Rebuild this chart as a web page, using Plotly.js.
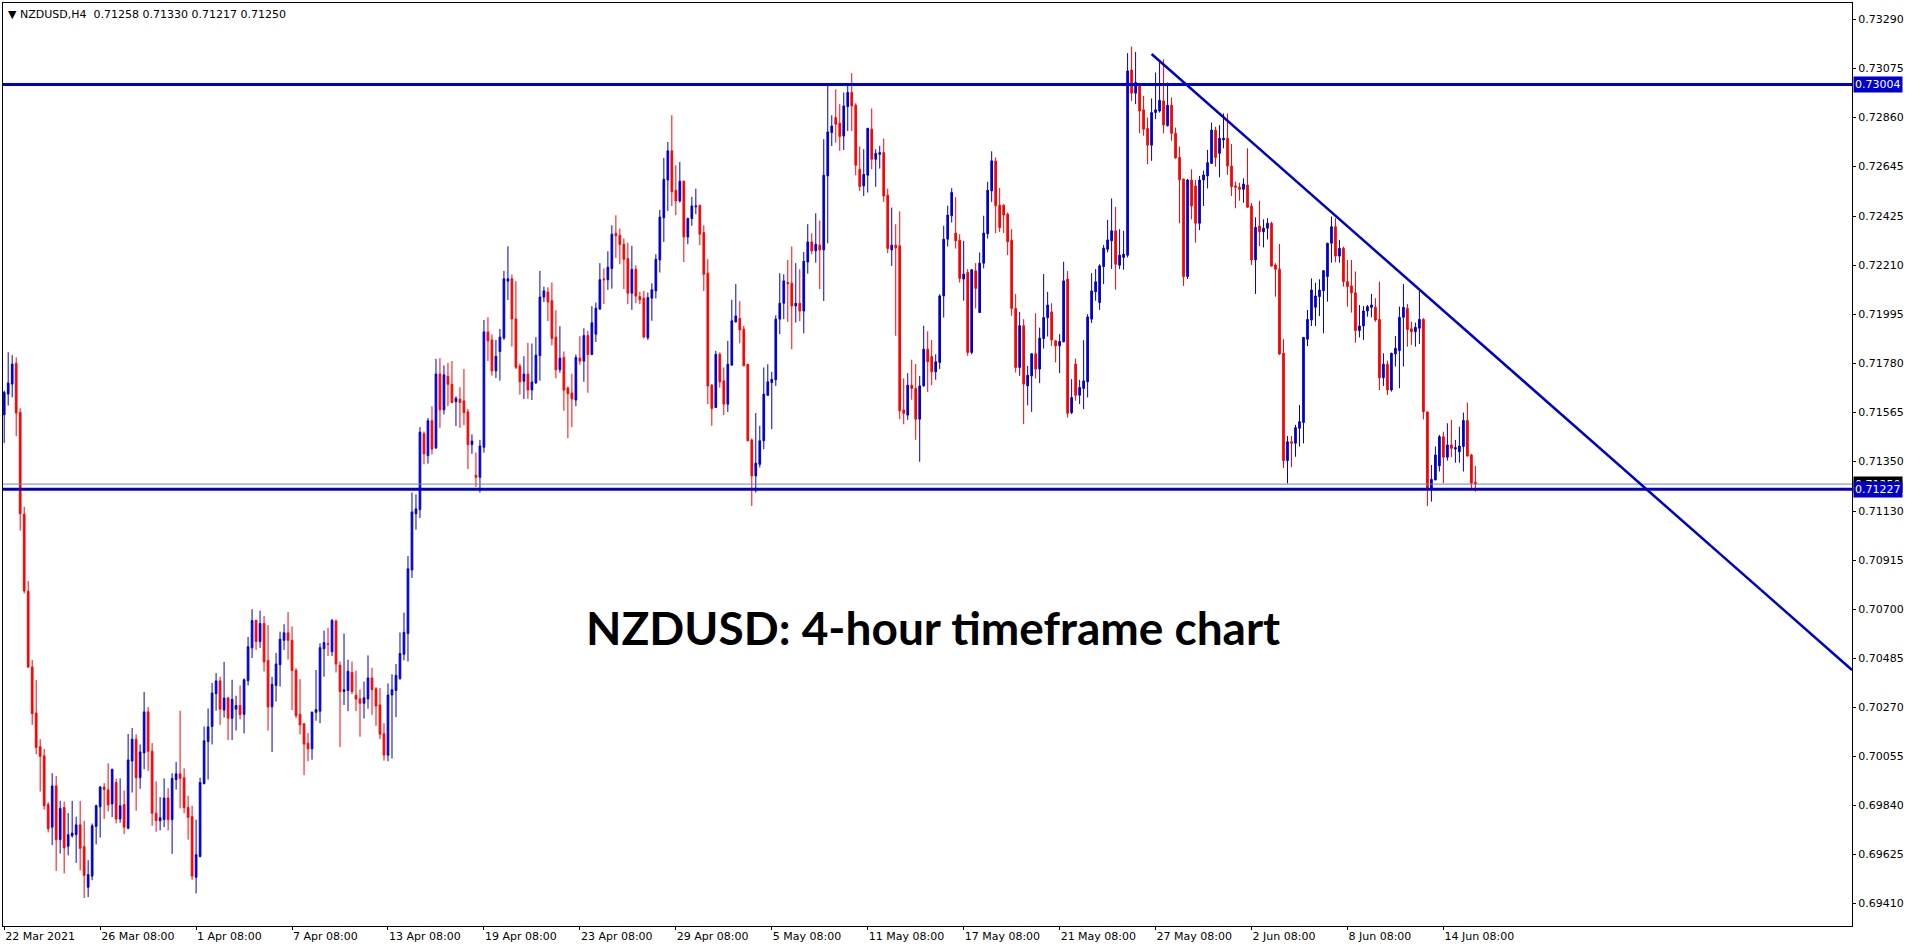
<!DOCTYPE html>
<html>
<head>
<meta charset="utf-8">
<script src="https://cdn.plot.ly/plotly-3.0.1.min.js"></script>
<style>
html,body{margin:0;padding:0;background:#fff;}
#chart{width:1916px;height:946px;}
</style>
</head>
<body>
<div id="chart"></div>
<script>
// ---- NZDUSD H4 OHLC values ----
const openP = [
.71554,.71645,.71689,.71780,.71565,.71118,.70780,.70447,.70245,.70097,
.70057,.69843,.69744,.69925,.69689,.69830,.69660,.69706,.69711,.69754,
.69658,.69480,.69529,.69747,.69833,.69920,.69908,.69846,.69940,.69780,
.69843,.69739,.70034,.70130,.69961,.70070,.70250,.70077,.69805,.69772,
.69777,.69872,.69777,.69953,.69978,.69961,.69830,.69790,.69524,.69615,
.69935,.70120,.70186,.70330,.70386,.70258,.70311,.70222,.70262,.70278,
.70239,.70387,.70531,.70651,.70559,.70638,.70476,.70272,.70366,.70457,
.70564,.70597,.70564,.70432,.70239,.70198,.70112,.70088,.70248,.70253,
.70527,.70549,.70514,.70649,.70455,.70340,.70344,.70423,.70323,.70307,
.70288,.70307,.70399,.70351,.70280,.70154,.70060,.70324,.70344,.70396,
.70503,.70594,.70873,.71120,.71138,.71471,.71375,.71528,.71409,.71733,
.71576,.71723,.71688,.71612,.71623,.71615,.71567,.71423,.71289,.71280,
.71412,.71918,.71883,.71747,.71832,.71891,.72141,.72151,.71975,.71768,
.71702,.71733,.71663,.71694,.71814,.72071,.72093,.72055,.71895,.71752,
.71806,.71672,.71650,.71619,.71803,.71790,.71902,.71819,.71908,.72018,
.72150,.72147,.72196,.72351,.72342,.72303,.72240,.72088,.72193,.72073,
.72066,.71892,.72066,.72098,.72234,.72419,.72585,.72713,.72540,.72493,
.72580,.72335,.72416,.72467,.72474,.72354,.72176,.71684,.71586,.71820,
.71703,.71601,.71772,.71962,.71977,.71930,.71776,.71444,.71286,.71337,
.71440,.71640,.71696,.71708,.71974,.72044,.72135,.72132,.72032,.72044,
.72010,.72225,.72313,.72274,.72299,.72278,.72603,.72793,.72859,.72834,
.72778,.72907,.72969,.72913,.72632,.72559,.72606,.72808,.72676,.72698,
.72705,.72518,.72278,.72299,.72296,.71575,.71553,.71684,.71670,.71535,
.71681,.71842,.71810,.71743,.71784,.72076,.72325,.72428,.72352,.72321,
.72150,.72179,.71828,.72186,.72003,.72220,.72349,.72537,.72668,.72474,
.72474,.72435,.72321,.72021,.71762,.71945,.71681,.71725,.71822,.71755,
.71889,.71981,.72006,.71879,.71857,.71875,.72150,.71564,.71777,.71640,
.71670,.71699,.71974,.72094,.72047,.72205,.72281,.72318,.72362,.72211,
.72245,.72255,.73068,.72966,.73008,.72893,.72811,.72738,.72881,.72888,
.72932,.72823,.72913,.72790,.72684,.72589,.72161,.72585,.72559,.72395,
.72585,.72603,.72658,.72804,.72702,.72761,.72768,.72646,.72559,.72553,
.72544,.72563,.72471,.72234,.72383,.72358,.72373,.72395,.72212,.72193,
.71824,.71353,.71436,.71429,.71495,.71520,.71886,.71970,.72026,.72073,
.72099,.72161,.72307,.72380,.72251,.72285,.72139,.72120,.72090,.71924,
.71944,.72010,.72026,.72026,.71973,.71717,.71776,.71663,.71821,.71836,
.71982,.72022,.71932,.71919,.71934,.71973,.71567,.71232,.71268,.71330,
.71458,.71368,.71422,.71404,.71392,.71415,.71529,.71378,.71258];

const highP = [
.71660,.71829,.71816,.71806,.71583,.71150,.70824,.70478,.70390,.70130,
.70087,.69854,.69981,.69968,.69859,.69856,.69806,.69859,.69790,.69859,
.69772,.69599,.69760,.69843,.69925,.69937,.70024,.70000,.69957,.69958,
.69905,.70153,.70179,.70151,.70107,.70338,.70272,.70113,.69945,.69876,
.69958,.69915,.69981,.70031,.70255,.70002,.69882,.69838,.69777,.69961,
.70186,.70265,.70377,.70420,.70404,.70470,.70316,.70391,.70321,.70366,
.70397,.70579,.70701,.70655,.70694,.70671,.70631,.70404,.70509,.70602,
.70635,.70688,.70625,.70443,.70394,.70200,.70157,.70252,.70434,.70551,
.70607,.70619,.70658,.70655,.70471,.70594,.70479,.70471,.70431,.70348,
.70383,.70498,.70444,.70359,.70355,.70200,.70375,.70415,.70460,.70599,
.70686,.70934,.71213,.71205,.71500,.71481,.71540,.71592,.71800,.71803,
.71771,.71782,.71790,.71635,.71675,.71755,.71580,.71468,.71388,.71444,
.71970,.71982,.71907,.71883,.71931,.72186,.72294,.72170,.72141,.71779,
.71811,.71870,.71867,.71895,.72186,.72117,.72114,.72135,.72013,.71943,
.71832,.71678,.71734,.71819,.71899,.71934,.71923,.72031,.72047,.72220,
.72197,.72272,.72386,.72430,.72372,.72328,.72310,.72296,.72211,.72094,
.72098,.72091,.72132,.72259,.72454,.72682,.72752,.72869,.72650,.72664,
.72581,.72420,.72511,.72547,.72474,.72386,.72237,.71689,.71835,.71828,
.71762,.71879,.72059,.72128,.72053,.71945,.71776,.71450,.71562,.71506,
.71762,.71776,.71743,.71991,.72176,.72171,.72234,.72293,.72220,.72193,
.72269,.72391,.72351,.72439,.72407,.72764,.73001,.72869,.72983,.72918,
.72969,.73001,.73054,.72922,.72732,.72720,.72812,.72899,.72720,.72735,
.72767,.72547,.72464,.72391,.72447,.71714,.71737,.71796,.71777,.71725,
.71945,.71921,.71883,.71820,.72084,.72384,.72472,.72549,.72510,.72347,
.72318,.72194,.72194,.72220,.72267,.72428,.72577,.72711,.72684,.72550,
.72479,.72442,.72369,.72084,.72006,.71974,.71769,.71825,.72000,.71937,
.72172,.72094,.72044,.71883,.71908,.72226,.72186,.71711,.71801,.71708,
.71882,.71996,.72176,.72194,.72215,.72300,.72410,.72504,.72467,.72369,
.72362,.73142,.73171,.73147,.73008,.72954,.72859,.72943,.73057,.73108,
.73115,.73013,.72947,.72815,.72732,.72591,.72590,.72632,.72585,.72603,
.72626,.72717,.72837,.72819,.72826,.72877,.72877,.72743,.72578,.72573,
.72592,.72724,.72483,.72421,.72494,.72412,.72417,.72402,.72219,.72304,
.71886,.71461,.71461,.71510,.71597,.71894,.72014,.72153,.72134,.72149,
.72187,.72310,.72424,.72417,.72322,.72292,.72234,.72234,.72183,.72036,
.72032,.72036,.72085,.72066,.72139,.71824,.71792,.71827,.71900,.72029,
.72128,.72041,.71963,.71959,.72102,.71978,.71567,.71334,.71415,.71466,
.71480,.71517,.71532,.71444,.71502,.71564,.71608,.71383,.71330];

const lowP = [
.71430,.71595,.71631,.71460,.71046,.70770,.70443,.70193,.70064,.69900,
.69821,.69721,.69665,.69552,.69628,.69541,.69620,.69698,.69587,.69554,
.69433,.69437,.69511,.69668,.69698,.69780,.69813,.69788,.69760,.69763,
.69714,.69735,.69896,.69816,.69912,.69998,.69991,.69750,.69724,.69730,
.69744,.69730,.69627,.69909,.69826,.69805,.69689,.69513,.69453,.69612,
.69932,.69953,.70107,.70255,.70193,.70225,.70126,.70126,.70168,.70217,
.70156,.70366,.70486,.70522,.70531,.70427,.70168,.70074,.70295,.70361,
.70522,.70480,.70258,.70222,.70151,.69972,.70033,.70040,.70211,.70200,
.70404,.70495,.70495,.70423,.70096,.70280,.70253,.70328,.70253,.70141,
.70221,.70264,.70237,.70189,.70131,.70036,.70033,.70045,.70227,.70391,
.70476,.70471,.70838,.71050,.71101,.71337,.71340,.71380,.71404,.71497,
.71556,.71592,.71605,.71505,.71497,.71508,.71316,.71383,.71237,.71213,
.71388,.71790,.71726,.71715,.71704,.71883,.72058,.71854,.71755,.71643,
.71624,.71624,.71619,.71691,.71704,.72049,.71966,.71859,.71715,.71739,
.71572,.71452,.71500,.71592,.71774,.71699,.71651,.71816,.71874,.72018,
.72040,.72103,.72108,.72243,.72215,.72106,.72040,.72015,.72044,.72040,
.71889,.71883,.71967,.72065,.72179,.72313,.72449,.72471,.72430,.72486,
.72225,.72303,.72384,.72435,.72299,.72098,.71601,.71506,.71586,.71674,
.71553,.71567,.71772,.71959,.71868,.71769,.71440,.71154,.71213,.71323,
.71403,.71637,.71491,.71681,.71908,.71974,.71962,.71842,.71959,.71965,
.71912,.72174,.72259,.72222,.72106,.72054,.72307,.72734,.72749,.72713,
.72717,.72800,.72800,.72606,.72537,.72515,.72530,.72632,.72555,.72635,
.72489,.72264,.72208,.71901,.71535,.71513,.71532,.71620,.71444,.71348,
.71678,.71655,.71684,.71708,.71755,.71981,.72293,.72398,.72284,.72135,
.72055,.71813,.71820,.72021,.72003,.72197,.72328,.72489,.72352,.72357,
.72352,.72255,.71989,.71740,.71725,.71513,.71596,.71567,.71714,.71693,
.71845,.71898,.71857,.71784,.71737,.71872,.71542,.71557,.71616,.71601,
.71579,.71630,.71957,.72055,.72015,.72128,.72267,.72194,.72103,.72194,
.72191,.72245,.72932,.72918,.72790,.72779,.72654,.72669,.72852,.72881,
.72790,.72820,.72757,.72679,.72395,.72120,.72150,.72412,.72310,.72365,
.72471,.72548,.72655,.72643,.72597,.72724,.72607,.72515,.72461,.72494,
.72485,.72465,.72212,.72085,.72295,.72289,.72324,.72205,.72073,.71817,
.71320,.71253,.71324,.71370,.71415,.71429,.71856,.71944,.71944,.71988,
.71912,.72051,.72222,.72224,.72222,.72117,.72029,.72003,.71871,.71894,
.71883,.71985,.71982,.71963,.71663,.71681,.71641,.71656,.71766,.71671,
.71766,.71853,.71861,.71853,.71865,.71534,.71154,.71173,.71268,.71305,
.71254,.71353,.71368,.71344,.71344,.71305,.71371,.71231,.71217];

const closeP = [
.71653,.71694,.71777,.71562,.71120,.70781,.70447,.70242,.70094,.70055,
.69838,.69737,.69925,.69689,.69826,.69653,.69711,.69718,.69754,.69651,
.69532,.69536,.69750,.69838,.69920,.69909,.69842,.69998,.69780,.69838,
.69744,.70039,.70130,.69961,.70074,.70250,.70077,.69805,.69773,.69785,
.69872,.69777,.69958,.69978,.69958,.69830,.69787,.69529,.69623,.69940,
.70123,.70184,.70333,.70386,.70262,.70311,.70222,.70305,.70278,.70239,
.70391,.70536,.70651,.70559,.70638,.70470,.70272,.70371,.70460,.70569,
.70597,.70564,.70432,.70234,.70193,.70109,.70088,.70248,.70260,.70532,
.70554,.70546,.70651,.70460,.70340,.70347,.70428,.70339,.70307,.70288,
.70312,.70399,.70348,.70276,.70152,.70061,.70324,.70347,.70410,.70506,
.70599,.70878,.71128,.71141,.71478,.71383,.71528,.71404,.71733,.71576,
.71730,.71688,.71608,.71627,.71608,.71564,.71423,.71439,.71280,.71417,
.71918,.71879,.71747,.71811,.71895,.72151,.72151,.71975,.71763,.71699,
.71733,.71663,.71698,.71816,.72071,.72098,.72050,.71889,.71752,.71803,
.71663,.71647,.71624,.71806,.71790,.71902,.71819,.71958,.72022,.72147,
.72147,.72202,.72347,.72340,.72302,.72237,.72088,.72193,.72076,.72059,
.71896,.72069,.72103,.72237,.72422,.72588,.72713,.72533,.72493,.72580,
.72335,.72416,.72471,.72471,.72347,.72171,.71681,.71582,.71820,.71699,
.71601,.71776,.71967,.71988,.71927,.71769,.71440,.71286,.71342,.71440,
.71645,.71699,.71710,.71974,.72044,.72142,.72130,.72032,.72044,.72010,
.72228,.72313,.72274,.72303,.72278,.72606,.72796,.72822,.72830,.72776,
.72910,.72969,.72910,.72650,.72556,.72610,.72812,.72676,.72702,.72705,
.72515,.72284,.72299,.72287,.71572,.71561,.71684,.71670,.71535,.71681,
.71842,.71787,.71743,.71787,.72076,.72325,.72431,.72530,.72318,.72153,
.72172,.71828,.72191,.72109,.72220,.72352,.72540,.72669,.72472,.72376,
.72431,.72314,.72021,.71762,.71945,.71689,.71728,.71822,.71755,.71891,
.71981,.72036,.71883,.71857,.71876,.72142,.71561,.71630,.71640,.71674,
.71703,.71984,.72098,.72138,.72208,.72286,.72322,.72362,.72215,.72255,
.72259,.73064,.72966,.73013,.72888,.72808,.72738,.72881,.72893,.72935,
.72826,.72913,.72790,.72682,.72586,.72161,.72585,.72471,.72395,.72585,
.72607,.72661,.72804,.72684,.72768,.72768,.72646,.72556,.72553,.72544,
.72567,.72465,.72234,.72377,.72358,.72373,.72395,.72207,.72193,.71821,
.71353,.71436,.71429,.71498,.71524,.71894,.71973,.72102,.72076,.72102,
.72187,.72307,.72380,.72251,.72285,.72139,.72117,.72090,.71924,.71944,
.72010,.72029,.72036,.71970,.71717,.71776,.71663,.71824,.71846,.71982,
.72026,.71929,.71919,.71938,.71973,.71568,.71232,.71271,.71378,.71458,
.71368,.71422,.71407,.71410,.71417,.71529,.71373,.71253,.71250];

// x-axis labels (bar index -> date label)
const xTickIdx = [0,24,48,72,96,120,144,168,192,216,240,264,288,312,336,360];
const xTickText = ["22 Mar 2021","26 Mar 08:00","1 Apr 08:00","7 Apr 08:00","13 Apr 08:00",
  "19 Apr 08:00","23 Apr 08:00","29 Apr 08:00","5 May 08:00","11 May 08:00","17 May 08:00",
  "21 May 08:00","27 May 08:00","2 Jun 08:00","8 Jun 08:00","14 Jun 08:00"];

// price-axis labels
const yTickVals = [0.73290,0.73075,0.72860,0.72645,0.72425,0.72210,0.71995,0.71780,0.71565,
  0.71350,0.71130,0.70915,0.70700,0.70485,0.70270,0.70055,0.69840,0.69625,0.69410];

// drawn objects
const levels = [0.73004, 0.71227];      // horizontal support / resistance
const bidLevel = 0.71250;               // current bid line
const trendX = [287, 462.2];            // descending trend line (bar index)
const trendY = [0.73138, 0.70434];
const header = ["NZDUSD,H4", 0.71258, 0.71330, 0.71217, 0.71250];

const BLUE = "#0000CD", RED = "#FF0000";
const FONT = "DejaVu Sans";

const xIdx = openP.map((_, i) => i);

const trace = {
  type: "candlestick",
  x: xIdx, open: openP, high: highP, low: lowP, close: closeP,
  increasing: {line: {color: BLUE, width: 1}, fillcolor: BLUE},
  decreasing: {line: {color: RED, width: 1}, fillcolor: RED},
  whiskerwidth: 0,
  hoverinfo: "skip",
  showlegend: false
};

const shapes = [];
levels.forEach(v => shapes.push({type: "line", xref: "paper", x0: 0, x1: 1, yref: "y", y0: v, y1: v,
  line: {color: BLUE, width: 3}}));
shapes.push({type: "line", xref: "paper", x0: 0, x1: 1, yref: "y", y0: bidLevel, y1: bidLevel,
  line: {color: "#778899", width: 1}});
shapes.push({type: "line", xref: "x", yref: "y", x0: trendX[0], y0: trendY[0], x1: trendX[1], y1: trendY[1],
  line: {color: BLUE, width: 2.5}});

const priceBox = (v, bg) => ({xref: "paper", x: 1, xanchor: "left", xshift: 1, yref: "y", y: v,
  yanchor: "middle", text: v.toFixed(5), showarrow: false, bgcolor: bg, borderpad: 1,
  font: {family: FONT, size: 11, color: "#FFFFFF"}});

const annotations = [
  {xref: "paper", yref: "paper", x: 0, y: 1, xanchor: "left", yanchor: "top", xshift: 3, yshift: -3,
   showarrow: false, align: "left",
   text: "\u25BC " + header[0] + "\u00A0\u00A0" + header.slice(1).map(v => v.toFixed(5)).join(" "),
   font: {family: FONT, size: 11, color: "#000000"}},
  {xref: "paper", yref: "paper", x: 0.503, y: 0.323, xanchor: "center", yanchor: "middle",
   showarrow: false, text: "<b>NZDUSD: 4-hour timeframe chart</b>",
   font: {family: "Lato", size: 46, color: "#000000"}},
  priceBox(bidLevel, "#000000"),
  priceBox(levels[0], BLUE),
  priceBox(levels[1], BLUE)
];

const layout = {
  width: 1916, height: 946,
  margin: {l: 3, r: 64, t: 3, b: 20, pad: 0},
  paper_bgcolor: "#FFFFFF", plot_bgcolor: "#FFFFFF",
  showlegend: false,
  boxgap: 0.4,
  xaxis: {
    range: [-0.3, 462.2], showgrid: false, zeroline: false,
    showline: true, mirror: true, linecolor: "#000000", linewidth: 1,
    tickmode: "array", tickvals: xTickIdx, ticktext: xTickText,
    ticks: "outside", ticklen: 3, tickcolor: "#000000",
    ticklabelposition: "outside right",
    tickfont: {family: FONT, size: 11, color: "#000000"},
    rangeslider: {visible: false}, fixedrange: true
  },
  yaxis: {
    side: "right", range: [0.69310, 0.73362], showgrid: false, zeroline: false,
    showline: true, mirror: true, linecolor: "#000000", linewidth: 1,
    tickmode: "array", tickvals: yTickVals, ticktext: yTickVals.map(v => v.toFixed(5)),
    ticks: "outside", ticklen: 3, tickcolor: "#000000",
    tickfont: {family: FONT, size: 11, color: "#000000"},
    fixedrange: true
  },
  shapes: shapes,
  annotations: annotations
};

Plotly.newPlot("chart", [trace], layout, {displayModeBar: false, staticPlot: true});
</script>
</body>
</html>
